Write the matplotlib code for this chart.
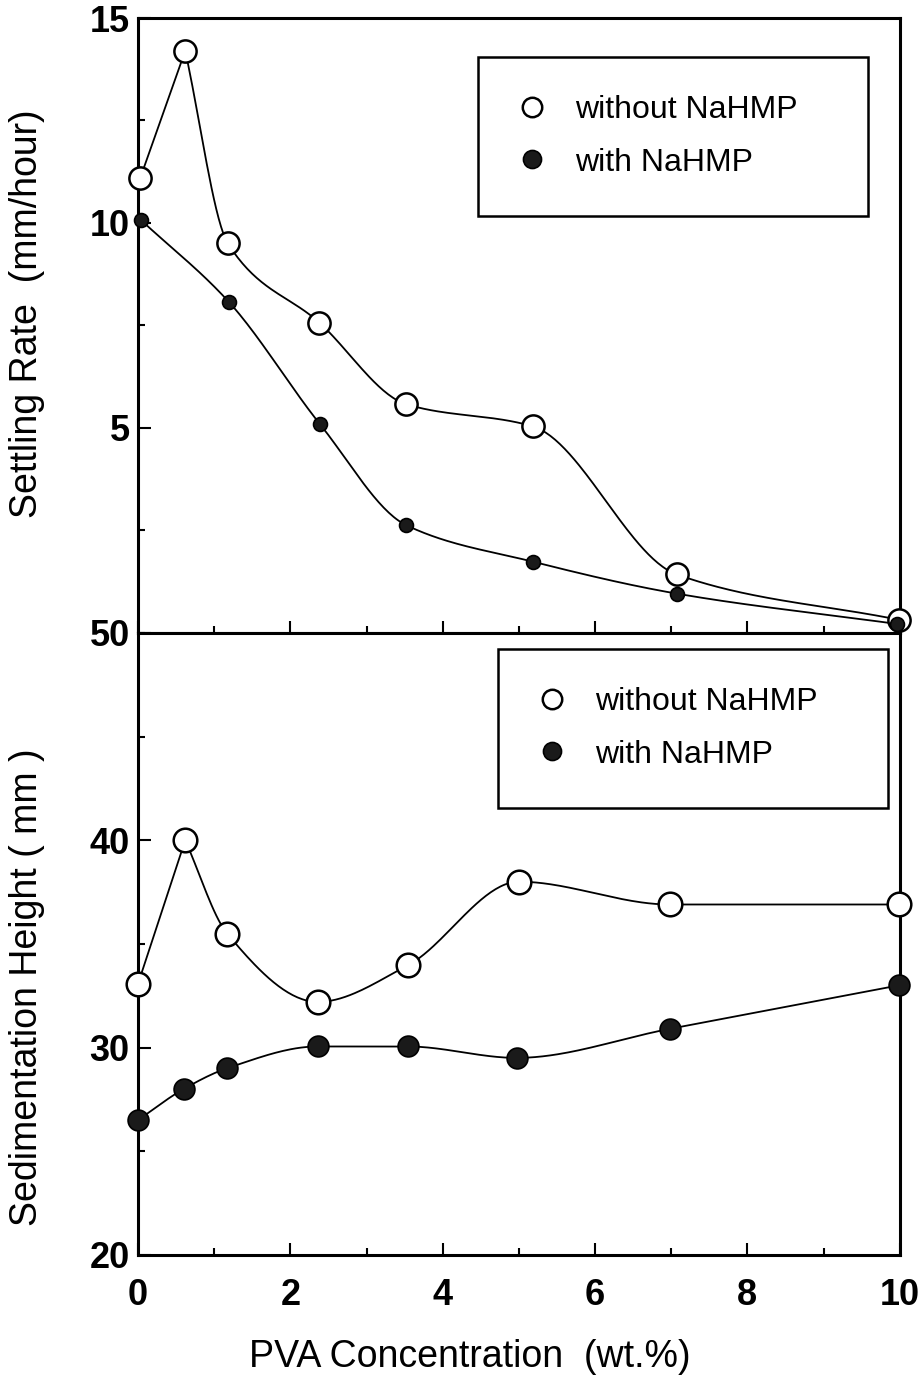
import numpy as np
import matplotlib
matplotlib.use("Agg")
import matplotlib.pyplot as plt
from matplotlib.lines import Line2D
from matplotlib.ticker import MultipleLocator

plt.rcParams['font.family'] = ['Liberation Sans', 'DejaVu Sans']

# settling rate (mm/hour)
rate_x_open = [0.03, 0.62, 1.18, 2.38, 3.52, 5.18, 7.07, 9.99]
rate_open = [11.1, 14.2, 9.5, 7.57, 5.58, 5.04, 1.43, 0.32]
rate_x_fill = [0.04, 1.19, 2.39, 3.52, 5.18, 7.07, 9.96]
rate_fill = [10.07, 8.08, 5.09, 2.63, 1.74, 0.96, 0.22]

# sedimentation height (mm)
sed_x_open = [0.0, 0.62, 1.17, 2.36, 3.54, 5.0, 6.98, 9.99]
sed_open = [33.07, 40.0, 35.5, 32.2, 33.96, 38.0, 36.9, 36.9]
sed_x_fill = [0.0, 0.6, 1.17, 2.36, 3.54, 4.97, 6.98, 9.99]
sed_fill = [26.5, 28.0, 29.0, 30.05, 30.05, 29.5, 30.9, 33.0]

labels = ['without NaHMP', 'with NaHMP']


def pchip(x, y, n=300):
    # monotone cubic, so the curves do not overshoot between points
    x = np.asarray(x, float)
    y = np.asarray(y, float)
    h = np.diff(x)
    d = np.diff(y) / h
    m = np.zeros_like(y)
    for k in range(1, len(x) - 1):
        if d[k - 1] * d[k] > 0:
            w1 = 2 * h[k] + h[k - 1]
            w2 = h[k] + 2 * h[k - 1]
            m[k] = (w1 + w2) / (w1 / d[k - 1] + w2 / d[k])
    m[0] = d[0]
    m[-1] = d[-1]
    xs = np.linspace(x[0], x[-1], n)
    idx = np.clip(np.searchsorted(x, xs) - 1, 0, len(h) - 1)
    t = (xs - x[idx]) / h[idx]
    h00 = 2 * t**3 - 3 * t**2 + 1
    h10 = t**3 - 2 * t**2 + t
    h01 = -2 * t**3 + 3 * t**2
    h11 = t**3 - t**2
    ys = h00 * y[idx] + h10 * h[idx] * m[idx] + h01 * y[idx + 1] + h11 * h[idx] * m[idx + 1]
    return xs, ys


def smooth(x, y, cusp=()):
    # split the curve at sharp peaks, smooth each piece on its own
    cuts = [0] + list(cusp) + [len(x) - 1]
    xx, yy = [], []
    for a, b in zip(cuts[:-1], cuts[1:]):
        xs, ys = pchip(x[a:b + 1], y[a:b + 1])
        xx.append(xs)
        yy.append(ys)
    return np.concatenate(xx), np.concatenate(yy)


fig = plt.figure(figsize=(9.2, 13.85), dpi=100)
left, right = 0.15, 0.978
ax1 = fig.add_axes([left, 0.543, right - left, 0.987 - 0.543])
ax2 = fig.add_axes([left, 0.094, right - left, 0.543 - 0.094])

lw = 1.3
for ax in (ax1, ax2):
    for s in ax.spines.values():
        s.set_linewidth(2.2)
    ax.set_xlim(0, 10)
    ax.xaxis.set_major_locator(MultipleLocator(2))
    ax.xaxis.set_minor_locator(MultipleLocator(1))
    ax.tick_params(which='both', direction='in', top=False, right=False, width=1.5)
    ax.tick_params(which='major', length=9, labelsize=26)
    ax.tick_params(axis='y', pad=6)
    ax.tick_params(which='minor', length=5)

leg_kw = dict(loc='center', mode='expand', fontsize=23, frameon=True, fancybox=False,
              edgecolor='black', framealpha=1, borderaxespad=0, handlelength=1.0,
              handletextpad=0.85, labelspacing=0.7, borderpad=1.2)
h_open = Line2D([], [], ls='none', marker='o', ms=14, mfc='white', mec='black', mew=1.8)
h_fill = Line2D([], [], ls='none', marker='o', ms=13, mfc='#1a1a1a', mec='black', mew=1.2)

# top panel
xs, ys = smooth(rate_x_open, rate_open, cusp=[1])
ax1.plot(xs, ys, color='black', lw=lw, zorder=2)
xs, ys = smooth(rate_x_fill, rate_fill)
ax1.plot(xs, ys, color='black', lw=lw, zorder=2)
ax1.plot(rate_x_open, rate_open, 'o', ms=16, mfc='white', mec='black', mew=1.8, zorder=3, clip_on=False)
ax1.plot(rate_x_fill, rate_fill, 'o', ms=10, mfc='#1a1a1a', mec='black', mew=1.2, zorder=4, clip_on=False)
ax1.set_ylim(0, 15)
ax1.set_yticks([5, 10, 15])
ax1.yaxis.set_minor_locator(MultipleLocator(2.5))
ax1.set_yticklabels(['5', '10', '15'], fontweight='bold')
ax1.set_xticklabels([])
ax1.set_ylabel('Settling Rate  (mm/hour)', fontsize=27)
ax1.yaxis.set_label_coords(-0.122, 0.519)
leg1 = ax1.legend([h_open, h_fill], labels, bbox_to_anchor=(0.446, 0.675, 0.512, 0.265), **leg_kw)
leg1.get_frame().set_linewidth(1.8)

# bottom panel
xs, ys = smooth(sed_x_open, sed_open, cusp=[1])
ax2.plot(xs, ys, color='black', lw=lw, zorder=2)
xs, ys = smooth(sed_x_fill, sed_fill)
ax2.plot(xs, ys, color='black', lw=lw, zorder=2)
ax2.plot(sed_x_open, sed_open, 'o', ms=17, mfc='white', mec='black', mew=1.8, zorder=3, clip_on=False)
ax2.plot(sed_x_fill, sed_fill, 'o', ms=15, mfc='#1a1a1a', mec='black', mew=1.2, zorder=4, clip_on=False)
ax2.set_ylim(20, 50)
ax2.set_yticks([20, 30, 40, 50])
ax2.yaxis.set_minor_locator(MultipleLocator(5))
ax2.set_yticklabels(['20', '30', '40', '50'], fontweight='bold')
ax2.set_xticks([0, 2, 4, 6, 8, 10])
ax2.set_xticklabels(['0', '2', '4', '6', '8', '10'], fontweight='bold')
ax2.tick_params(axis='x', pad=17)
ax2.set_ylabel('Sedimentation Height ( mm )', fontsize=27)
ax2.yaxis.set_label_coords(-0.122, 0.431)
ax2.set_xlabel('PVA Concentration  (wt.%)', fontsize=27)
ax2.xaxis.set_label_coords(0.436, -0.135)
leg2 = ax2.legend([h_open, h_fill], labels, bbox_to_anchor=(0.472, 0.712, 0.512, 0.269), **leg_kw)
leg2.get_frame().set_linewidth(1.8)

fig.savefig('out.png', dpi=100)
